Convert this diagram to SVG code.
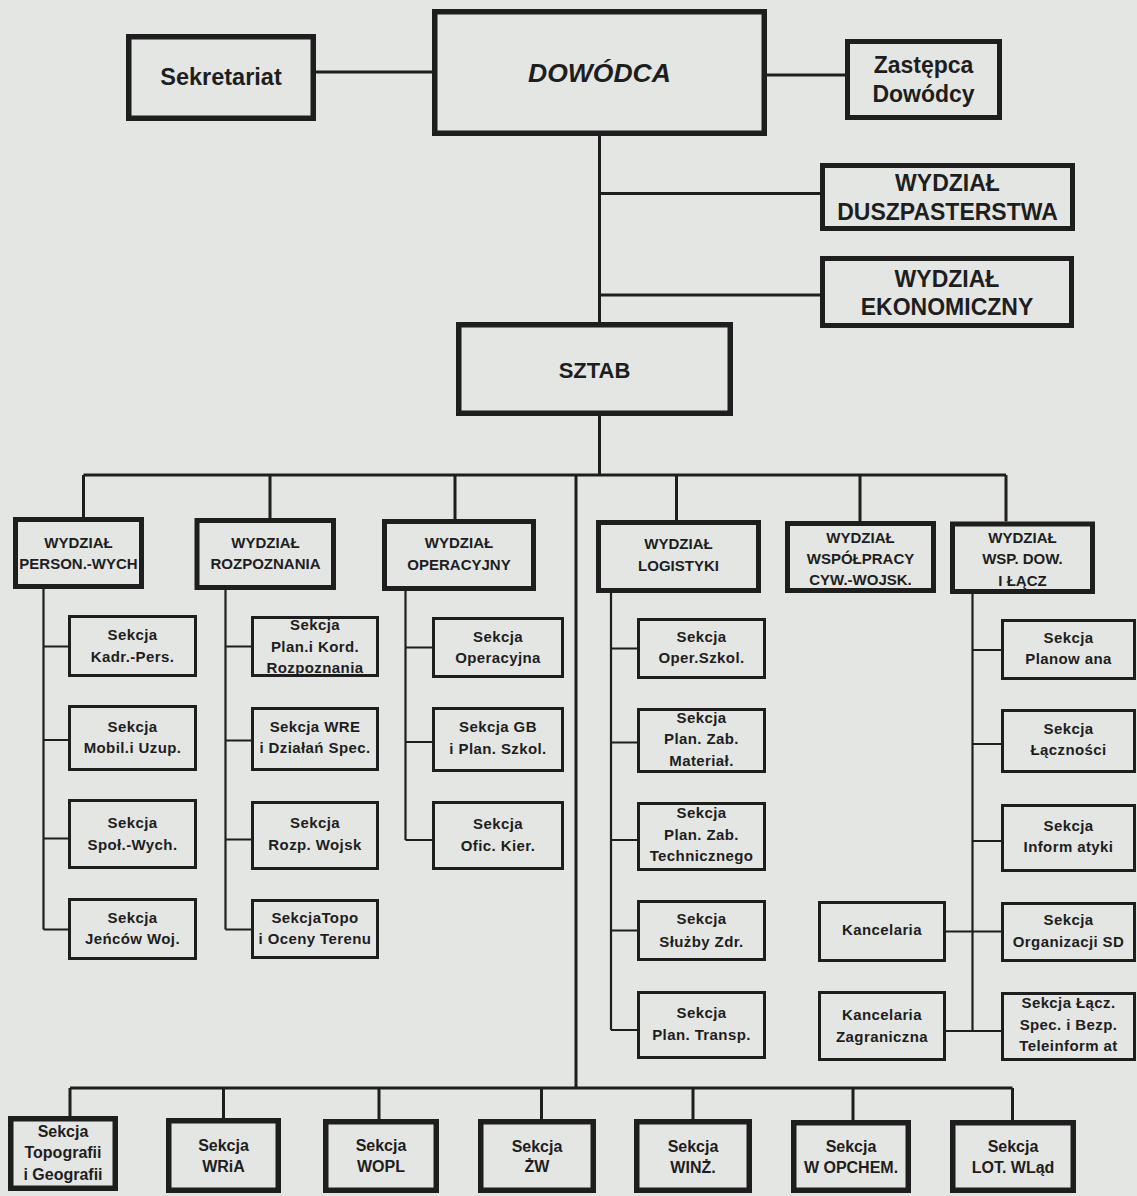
<svg xmlns="http://www.w3.org/2000/svg" width="1137" height="1196" viewBox="0 0 1137 1196">
  <style>
    .bg { fill: #e4e6e3; }
    .box { fill: none; stroke: #1e1e1e; stroke-linejoin: miter; }
    .main { stroke-width: 5.5; }
    .dept { stroke-width: 5; }
    .sec { stroke-width: 3; }
    .bot { stroke-width: 5.5; }
    .ln { fill: none; stroke: #1e1e1e; stroke-width: 3; }
    .ln2 { fill: none; stroke: #1e1e1e; stroke-width: 2.2; }
    text { font-family: "Liberation Sans", Arial, sans-serif; font-weight: bold; fill: #1e1e1e; text-anchor: middle; }
    .t-main { font-size: 23px; }
    .t-cmd { font-size: 26.5px; font-style: italic; }
    .t-dept { font-size: 15px; }
    .t-sec { font-size: 15px; letter-spacing: 0.4px; }
    .t-bot { font-size: 16px; }
  </style>

  <rect class="bg" x="0" y="0" width="1137" height="1196"/>

  <!-- connectors -->
  <g id="connectors">
    <path class="ln" d="M316 72 H432"/>
    <path class="ln" d="M767 75 H845"/>
    <path class="ln" d="M599.5 136 V322"/>
    <path class="ln" d="M599.5 193.5 H820"/>
    <path class="ln" d="M599.5 295 H820"/>
    <path class="ln" d="M599.5 416 V475"/>
    <path class="ln" d="M83.5 475 H1006"/>
    <path class="ln" d="M83.5 475 V517 M270 475 V518 M455 475 V519 M676.5 475 V520 M860 475 V521 M1006 475 V521.5"/>
    <path class="ln" d="M576 475 V1088"/>
    <path class="ln" d="M70 1088 H1012.5"/>
    <path class="ln" d="M70 1088 V1116 M223.5 1088 V1118 M379 1088 V1119 M541.5 1088 V1119 M693 1088 V1119 M853 1088 V1120 M1012.5 1088 V1120"/>
    <!-- personnel column -->
    <path class="ln2" d="M43.5 589 V929.5 M43.5 646.5 H68 M43.5 740 H68 M43.5 838.5 H68 M43.5 929.5 H68"/>
    <!-- reconnaissance column -->
    <path class="ln2" d="M225.5 590 V929.5 M225.5 646.5 H251 M225.5 740.5 H251 M225.5 839.5 H251 M225.5 929.5 H251"/>
    <!-- operations column -->
    <path class="ln2" d="M405.5 591 V840 M405.5 647.5 H432 M405.5 742 H432 M405.5 840 H432"/>
    <!-- logistics column -->
    <path class="ln2" d="M611 593 V1030 M611 648.5 H637 M611 742.5 H637 M611 840 H637 M611 930.5 H637 M611 1030 H637"/>
    <!-- command support & communications column -->
    <path class="ln2" d="M972.5 594 V1031 M972.5 650 H1001 M972.5 744 H1001 M972.5 841 H1001 M946 931.5 H1001 M946 1031 H1001"/>
  </g>

  <!-- top level -->
  <g id="sekretariat">
    <rect class="box main" x="128.75" y="36.75" width="184.5" height="81.5"/>
    <text x="221" y="85" style="font-size:23.5px">Sekretariat</text>
  </g>
  <g id="dowodca">
    <rect class="box main" x="434.75" y="11.75" width="329.5" height="121.5"/>
    <text class="t-cmd" x="599.5" y="82">DOWÓDCA</text>
  </g>
  <g id="zastepca">
    <rect class="box dept" x="847.5" y="41.5" width="152" height="76"/>
    <text class="t-main" x="923.5" y="72.7">Zastępca</text>
    <text class="t-main" x="923.5" y="101.7">Dowódcy</text>
  </g>
  <g id="duszpasterstwo">
    <rect class="box dept" x="822.5" y="165.5" width="250" height="63"/>
    <text class="t-main" x="947.5" y="191">WYDZIAŁ</text>
    <text class="t-main" x="947.5" y="220">DUSZPASTERSTWA</text>
  </g>
  <g id="ekonomiczny">
    <rect class="box dept" x="822.5" y="258.5" width="249" height="67"/>
    <text class="t-main" x="947" y="286.7">WYDZIAŁ</text>
    <text class="t-main" x="947" y="315">EKONOMICZNY</text>
  </g>
  <g id="sztab">
    <rect class="box main" x="458.75" y="324.75" width="271.5" height="88.5"/>
    <text x="594.5" y="377.7" style="font-size:22px">SZTAB</text>
  </g>

  <!-- departments -->
  <g id="wydz-person">
    <rect class="box dept" x="15.5" y="519.5" width="126" height="67"/>
    <text class="t-dept" x="78.5" y="547.7">WYDZIAŁ</text>
    <text class="t-dept" x="78.5" y="569.3">PERSON.-WYCH</text>
  </g>
  <g id="wydz-rozpoznania">
    <rect class="box dept" x="197" y="520.5" width="136.5" height="67"/>
    <text class="t-dept" x="265.5" y="547.7">WYDZIAŁ</text>
    <text class="t-dept" x="265.5" y="569.3">ROZPOZNANIA</text>
  </g>
  <g id="wydz-operacyjny">
    <rect class="box dept" x="384.5" y="521.5" width="149" height="67"/>
    <text class="t-dept" x="459" y="548.3">WYDZIAŁ</text>
    <text class="t-dept" x="459" y="569.5">OPERACYJNY</text>
  </g>
  <g id="wydz-logistyki">
    <rect class="box dept" x="598.5" y="522.5" width="160" height="68"/>
    <text class="t-dept" x="678.5" y="549.3">WYDZIAŁ</text>
    <text class="t-dept" x="678.5" y="570.7">LOGISTYKI</text>
  </g>
  <g id="wydz-wspolpracy">
    <rect class="box dept" x="787.5" y="523.5" width="146" height="67"/>
    <text class="t-dept" x="860.5" y="542.7">WYDZIAŁ</text>
    <text class="t-dept" x="860.5" y="564">WSPÓŁPRACY</text>
    <text class="t-dept" x="860.5" y="585">CYW.-WOJSK.</text>
  </g>
  <g id="wydz-wsp-dow">
    <rect class="box dept" x="952.5" y="524" width="140" height="67.5"/>
    <text class="t-dept" x="1022.5" y="542.7">WYDZIAŁ</text>
    <text class="t-dept" x="1022.5" y="564">WSP. DOW.</text>
    <text class="t-dept" x="1022.5" y="585.7">I ŁĄCZ</text>
  </g>

  <!-- personnel sections -->
  <g id="sek-kadr">
    <rect class="box sec" x="69.5" y="616.5" width="126" height="59"/>
    <text class="t-sec" x="132.5" y="640">Sekcja</text>
    <text class="t-sec" x="132.5" y="661.7">Kadr.-Pers.</text>
  </g>
  <g id="sek-mobil">
    <rect class="box sec" x="69.5" y="706.5" width="126" height="63"/>
    <text class="t-sec" x="132.5" y="731.7">Sekcja</text>
    <text class="t-sec" x="132.5" y="752.7">Mobil.i Uzup.</text>
  </g>
  <g id="sek-spol">
    <rect class="box sec" x="69.5" y="800.5" width="126" height="67"/>
    <text class="t-sec" x="132.5" y="828.3">Sekcja</text>
    <text class="t-sec" x="132.5" y="850">Społ.-Wych.</text>
  </g>
  <g id="sek-jencow">
    <rect class="box sec" x="69.5" y="899.5" width="126" height="59"/>
    <text class="t-sec" x="132.5" y="922.7">Sekcja</text>
    <text class="t-sec" x="132.5" y="944.3">Jeńców Woj.</text>
  </g>

  <!-- reconnaissance sections -->
  <g id="sek-plan-kord">
    <rect class="box sec" x="252.5" y="617.5" width="125" height="58"/>
    <text class="t-sec" x="315" y="630">Sekcja</text>
    <text class="t-sec" x="315" y="651.7">Plan.i Kord.</text>
    <text class="t-sec" x="315" y="672.7">Rozpoznania</text>
  </g>
  <g id="sek-wre">
    <rect class="box sec" x="252.5" y="708.5" width="125" height="61"/>
    <text class="t-sec" x="315" y="731.7">Sekcja WRE</text>
    <text class="t-sec" x="315" y="753.3">i Działań Spec.</text>
  </g>
  <g id="sek-rozp-wojsk">
    <rect class="box sec" x="252.5" y="802.5" width="125" height="66"/>
    <text class="t-sec" x="315" y="828.3">Sekcja</text>
    <text class="t-sec" x="315" y="850">Rozp. Wojsk</text>
  </g>
  <g id="sek-topo">
    <rect class="box sec" x="252.5" y="900.5" width="125" height="57"/>
    <text class="t-sec" x="315" y="923.3">SekcjaTopo</text>
    <text class="t-sec" x="315" y="944.3">i Oceny Terenu</text>
  </g>

  <!-- operations sections -->
  <g id="sek-operacyjna">
    <rect class="box sec" x="433.5" y="618.5" width="129" height="58"/>
    <text class="t-sec" x="498" y="641.7">Sekcja</text>
    <text class="t-sec" x="498" y="662.7">Operacyjna</text>
  </g>
  <g id="sek-gb">
    <rect class="box sec" x="433.5" y="708.5" width="129" height="62"/>
    <text class="t-sec" x="498" y="731.7">Sekcja GB</text>
    <text class="t-sec" x="498" y="754">i Plan. Szkol.</text>
  </g>
  <g id="sek-ofic">
    <rect class="box sec" x="433.5" y="802.5" width="129" height="66"/>
    <text class="t-sec" x="498" y="829.3">Sekcja</text>
    <text class="t-sec" x="498" y="850.7">Ofic. Kier.</text>
  </g>

  <!-- logistics sections -->
  <g id="sek-oper-szkol">
    <rect class="box sec" x="638.5" y="619.5" width="126" height="58"/>
    <text class="t-sec" x="701.5" y="641.7">Sekcja</text>
    <text class="t-sec" x="701.5" y="662.7">Oper.Szkol.</text>
  </g>
  <g id="sek-material">
    <rect class="box sec" x="638.5" y="709.5" width="126" height="62"/>
    <text class="t-sec" x="701.5" y="723.3">Sekcja</text>
    <text class="t-sec" x="701.5" y="744.3">Plan. Zab.</text>
    <text class="t-sec" x="701.5" y="765.7">Materiał.</text>
  </g>
  <g id="sek-techniczny">
    <rect class="box sec" x="638.5" y="803.5" width="126" height="66"/>
    <text class="t-sec" x="701.5" y="818.3">Sekcja</text>
    <text class="t-sec" x="701.5" y="840">Plan. Zab.</text>
    <text class="t-sec" x="701.5" y="861">Technicznego</text>
  </g>
  <g id="sek-zdrowia">
    <rect class="box sec" x="638.5" y="901.5" width="126" height="58"/>
    <text class="t-sec" x="701.5" y="924.3">Sekcja</text>
    <text class="t-sec" x="701.5" y="946.7">Służby Zdr.</text>
  </g>
  <g id="sek-transp">
    <rect class="box sec" x="638.5" y="992.5" width="126" height="65"/>
    <text class="t-sec" x="701.5" y="1018.3">Sekcja</text>
    <text class="t-sec" x="701.5" y="1040">Plan. Transp.</text>
  </g>

  <!-- chancelleries -->
  <g id="kancelaria">
    <rect class="box sec" x="819.5" y="902.5" width="125" height="58"/>
    <text class="t-sec" x="882" y="935">Kancelaria</text>
  </g>
  <g id="kancelaria-zagr">
    <rect class="box sec" x="819.5" y="992.5" width="125" height="67"/>
    <text class="t-sec" x="882" y="1020">Kancelaria</text>
    <text class="t-sec" x="882" y="1041.7">Zagraniczna</text>
  </g>

  <!-- command support & communications sections -->
  <g id="sek-planowana">
    <rect class="box sec" x="1002.5" y="620.5" width="132" height="58"/>
    <text class="t-sec" x="1068.5" y="643.3">Sekcja</text>
    <text class="t-sec" x="1068.5" y="664.3">Planow ana</text>
  </g>
  <g id="sek-lacznosci">
    <rect class="box sec" x="1002.5" y="710.5" width="132" height="61"/>
    <text class="t-sec" x="1068.5" y="734">Sekcja</text>
    <text class="t-sec" x="1068.5" y="755">Łączności</text>
  </g>
  <g id="sek-informatyki">
    <rect class="box sec" x="1002.5" y="805.5" width="132" height="65"/>
    <text class="t-sec" x="1068.5" y="830.7">Sekcja</text>
    <text class="t-sec" x="1068.5" y="852.3">Inform atyki</text>
  </g>
  <g id="sek-organizacji">
    <rect class="box sec" x="1002.5" y="903.5" width="132" height="57"/>
    <text class="t-sec" x="1068.5" y="925">Sekcja</text>
    <text class="t-sec" x="1068.5" y="946.7">Organizacji SD</text>
  </g>
  <g id="sek-lacz-spec">
    <rect class="box sec" x="1002.5" y="993.5" width="132" height="66"/>
    <text class="t-sec" x="1068.5" y="1008.3">Sekcja Łącz.</text>
    <text class="t-sec" x="1068.5" y="1030">Spec. i Bezp.</text>
    <text class="t-sec" x="1068.5" y="1050.7">Teleinform at</text>
  </g>

  <!-- bottom row of sections -->
  <g id="sek-topografii">
    <rect class="box bot" x="10.75" y="1118.75" width="104.5" height="69.5"/>
    <text class="t-bot" x="63" y="1136.7">Sekcja</text>
    <text class="t-bot" x="63" y="1158.3">Topografii</text>
    <text class="t-bot" x="63" y="1180">i Geografii</text>
  </g>
  <g id="sek-wria">
    <rect class="box bot" x="168.75" y="1120.75" width="109.5" height="69.5"/>
    <text class="t-bot" x="223.5" y="1150.5">Sekcja</text>
    <text class="t-bot" x="223.5" y="1171.5">WRiA</text>
  </g>
  <g id="sek-wopl">
    <rect class="box bot" x="325.75" y="1121.75" width="110.5" height="68.5"/>
    <text class="t-bot" x="381" y="1150.5">Sekcja</text>
    <text class="t-bot" x="381" y="1171.5">WOPL</text>
  </g>
  <g id="sek-zw">
    <rect class="box bot" x="480.75" y="1121.75" width="112.5" height="68.5"/>
    <text class="t-bot" x="537" y="1151.5">Sekcja</text>
    <text class="t-bot" x="537" y="1171.5">ŻW</text>
  </g>
  <g id="sek-winz">
    <rect class="box bot" x="636.75" y="1121.75" width="112.5" height="68.5"/>
    <text class="t-bot" x="693" y="1151.5">Sekcja</text>
    <text class="t-bot" x="693" y="1173">WINŻ.</text>
  </g>
  <g id="sek-wopchem">
    <rect class="box bot" x="793.75" y="1122.75" width="114.5" height="67.5"/>
    <text class="t-bot" x="851" y="1151.5">Sekcja</text>
    <text class="t-bot" x="851" y="1173">W OPCHEM.</text>
  </g>
  <g id="sek-lot">
    <rect class="box bot" x="952.75" y="1122.75" width="120.5" height="67.5"/>
    <text class="t-bot" x="1013" y="1151.5">Sekcja</text>
    <text class="t-bot" x="1013" y="1173">LOT. WLąd</text>
  </g>
</svg>
